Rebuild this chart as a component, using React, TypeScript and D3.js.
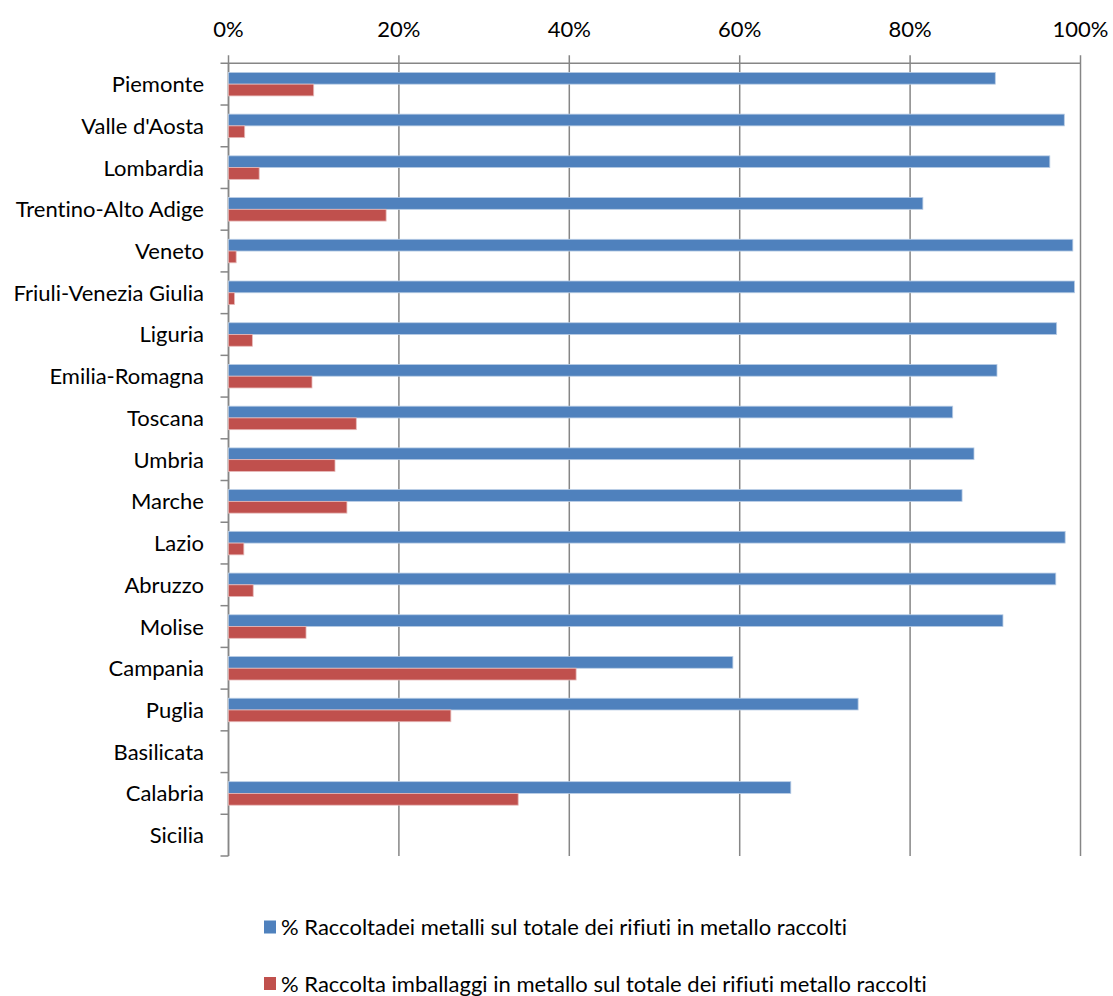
import React from "react";
import * as d3 from "d3";

const regions = [
  "Piemonte", "Valle d'Aosta", "Lombardia", "Trentino-Alto Adige", "Veneto",
  "Friuli-Venezia Giulia", "Liguria", "Emilia-Romagna", "Toscana", "Umbria",
  "Marche", "Lazio", "Abruzzo", "Molise", "Campania", "Puglia", "Basilicata",
  "Calabria", "Sicilia",
];
const metalli: (number | null)[] = [
  90.0, 98.1, 96.4, 81.5, 99.1, 99.3, 97.2, 90.2, 85.0, 87.5,
  86.1, 98.2, 97.1, 90.9, 59.2, 73.9, null, 66.0, null,
];
const imballaggi: (number | null)[] = [
  10.0, 1.9, 3.6, 18.5, 0.9, 0.7, 2.8, 9.8, 15.0, 12.5,
  13.9, 1.8, 2.9, 9.1, 40.8, 26.1, null, 34.0, null,
];
const ticks = [0, 20, 40, 60, 80, 100];
const seriesNames = [
  "% Raccoltadei metalli sul totale dei rifiuti in metallo raccolti",
  "% Raccolta imballaggi in metallo sul totale dei rifiuti metallo raccolti",
];
const colors = ["#4f81bd", "#c0504d"];
const strokes = ["#b9cde5", "#e6b9b8"];

export default function App() {
  const W = 1113, H = 996;
  const left = 228.5, right = 1080.5, top = 63.3, bottom = 856;
  const x = d3.scaleLinear().domain([0, 100]).range([left, right]);
  const y = d3.scaleBand().domain(regions).range([top, bottom]);
  const bw = y.bandwidth();
  const barH = bw / 3.55;
  const font = "Lato, 'Open Sans', sans-serif";
  const grid = "#868686";
  const series = [metalli, imballaggi];
  const txtStyle = { fontVariantLigatures: "none" as const, fontFeatureSettings: "'liga' 0" };

  return (
    <svg width={W} height={H} style={{ position: "absolute", left: 0, top: 0, background: "#fff" }}>
      {ticks.map((t) => (
        <line key={"g" + t} x1={x(t)} x2={x(t)} y1={top - 8} y2={bottom} stroke={grid} strokeWidth={1.5} />
      ))}
      <line x1={left - 8} x2={right} y1={top} y2={top} stroke={grid} strokeWidth={1.5} />
      <line x1={left} x2={left} y1={top} y2={bottom} stroke={grid} strokeWidth={1.5} />
      {regions.map((r, i) => (
        <line key={"t" + i} x1={left - 8} x2={left} y1={(y(r) as number) + bw} y2={(y(r) as number) + bw} stroke={grid} strokeWidth={1.5} />
      ))}
      {ticks.map((t) => (
        <text key={"l" + t} x={x(t)} y={37} textAnchor="middle" fontFamily={font} fontSize={22} fill="#000" style={txtStyle}>
          {t + "%"}
        </text>
      ))}
      {series.map((s, si) =>
        s.map((v, i) => {
          if (v == null) return null;
          const y0 = (y(regions[i]) as number) + bw / 2 - barH + si * barH;
          return (
            <rect key={"b" + si + "-" + i} x={x(0)} y={y0} width={x(v) - x(0)} height={barH}
              fill={colors[si]} stroke={strokes[si]} strokeWidth={0.8} />
          );
        })
      )}
      {regions.map((r) => (
        <text key={"c" + r} x={204} y={(y(r) as number) + bw / 2 + 8} textAnchor="end" fontFamily={font} fontSize={22} fill="#000" style={txtStyle}>
          {r}
        </text>
      ))}
      {seriesNames.map((n, i) => (
        <g key={"lg" + i} transform={`translate(264, ${927 + i * 56.5})`}>
          <rect x={0} y={-6.5} width={12} height={13} fill={colors[i]} />
          <text x={17} y={8} fontFamily={font} fontSize={22} fill="#000" style={txtStyle}>{n}</text>
        </g>
      ))}
    </svg>
  );
}
